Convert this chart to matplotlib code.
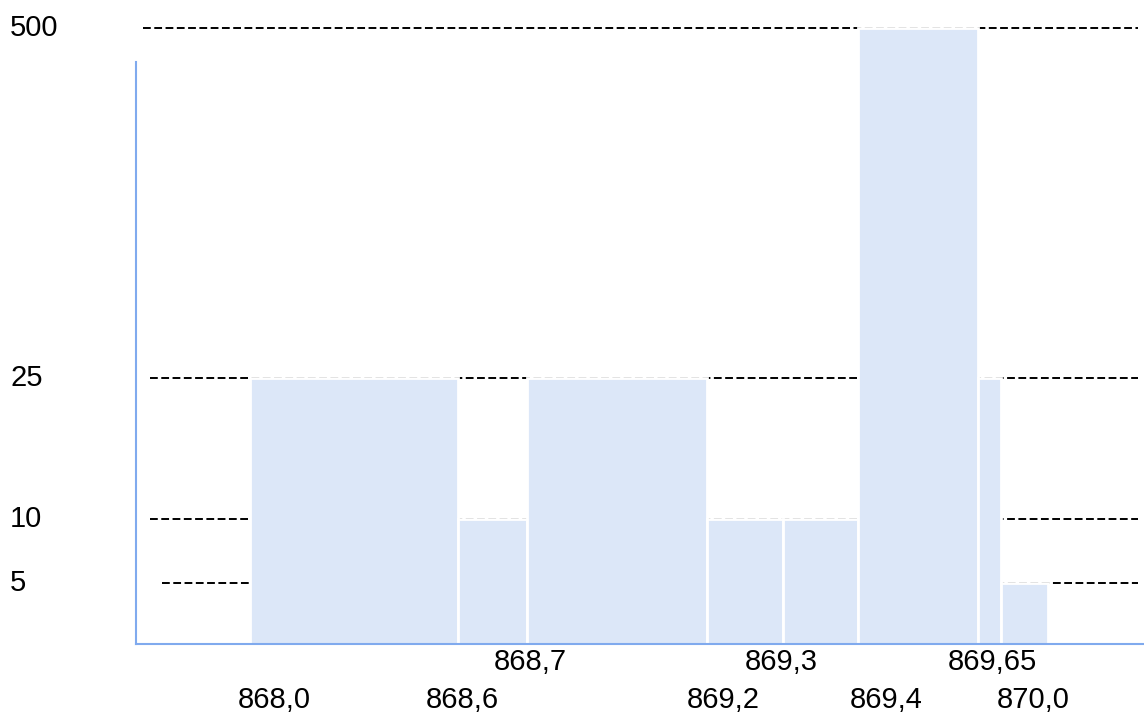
import numpy as np
import matplotlib
matplotlib.use("Agg")
import matplotlib.pyplot as plt

plt.rcParams["font.family"] = ["Liberation Sans", "DejaVu Sans"]

# EU868 sub-band edges (MHz) and max power per sub-band (mW)
band_edges = [868.0, 868.6, 868.7, 869.2, 869.3, 869.4, 869.65, 869.7, 870.0]
band_power = [25, 10, 25, 10, 10, 500, 25, 5]

power_levels = [500, 25, 10, 5]
power_labels = ["500", "25", "10", "5"]

row1_freqs = [868.7, 869.3, 869.65]
row1_labels = ["868,7", "869,3", "869,65"]
row2_freqs = [868.0, 868.6, 869.2, 869.4, 870.0]
row2_labels = ["868,0", "868,6", "869,2", "869,4", "870,0"]

# --- layout: the chart uses an uneven axis, so map values to screen spots
W, H = 1144, 716
x_knots = [867.8, 868.0, 868.6, 868.7, 869.2, 869.3, 869.4, 869.65, 869.7, 870.0, 870.2]
x_pix = [136, 250, 458, 527, 707, 783, 858, 978, 1001, 1048, 1144]
y_knots = [0, 5, 10, 25, 500, 530]
y_pix = [72, 133, 197, 338, 688, 706]

row1_shift = [3, -2, 14]
row2_shift = [24, 4, 16, 28, -15]
line_start = [143, 150, 150, 162]

bar_color = "#DCE7F8"
axis_color = "#80AAEE"
FS = 21


def fx(v):
    return np.interp(v, x_knots, x_pix)


def fx_inv(v):
    return np.interp(v, x_pix, x_knots)


def fy(v):
    return np.interp(v, y_knots, y_pix)


def fy_inv(v):
    return np.interp(v, y_pix, y_knots)


fig = plt.figure(figsize=(W / 100, H / 100), dpi=100)
ax = fig.add_axes([x_pix[0] / W, y_pix[0] / H, (x_pix[-1] - x_pix[0]) / W,
                   (y_pix[-1] - y_pix[0]) / H])
ax.set_xscale("function", functions=(fx, fx_inv))
ax.set_yscale("function", functions=(fy, fy_inv))
ax.set_xlim(x_knots[0], x_knots[-1])
ax.set_ylim(y_knots[0], y_knots[-1])

# dashed reference lines behind the bars
for lvl, x0 in zip(power_levels, line_start):
    ax.axhline(lvl, xmin=(x0 - 136) / 1008, xmax=(1138 - 136) / 1008,
               color="black", lw=1.4, linestyle=(0, (4.0, 1.8)), zorder=1)

lefts = band_edges[:-1]
widths = np.diff(band_edges)
ax.bar(lefts, band_power, width=widths, align="edge", color=bar_color,
       edgecolor="white", linewidth=2.0, zorder=2, clip_on=False)

# axes lines
for side in ["top", "right"]:
    ax.spines[side].set_visible(False)
ax.spines["left"].set_color(axis_color)
ax.spines["bottom"].set_color(axis_color)
ax.spines["left"].set_linewidth(1.5)
ax.spines["bottom"].set_linewidth(1.5)
ax.spines["left"].set_bounds(0, fy_inv(H - 62))
ax.set_xticks([])
ax.set_yticks([])

# y labels, left aligned near the figure edge
ytr = ax.get_yaxis_transform()
for lvl, lab in zip(power_levels, power_labels):
    ax.text((10 - 136) / 1008, lvl, lab, transform=ytr, ha="left", va="center",
            fontsize=FS)

# x labels in two rows
xtr = ax.get_xaxis_transform()
for f, lab, dx in zip(row1_freqs, row1_labels, row1_shift):
    ax.annotate(lab, (f, 0), xycoords=xtr, xytext=(dx * 0.72, -(662 - 644) * 0.72),
                textcoords="offset points", ha="center", va="center", fontsize=FS)
for f, lab, dx in zip(row2_freqs, row2_labels, row2_shift):
    ax.annotate(lab, (f, 0), xycoords=xtr, xytext=(dx * 0.72, -(700 - 644) * 0.72),
                textcoords="offset points", ha="center", va="center", fontsize=FS)

fig.savefig("out.png", dpi=100)
